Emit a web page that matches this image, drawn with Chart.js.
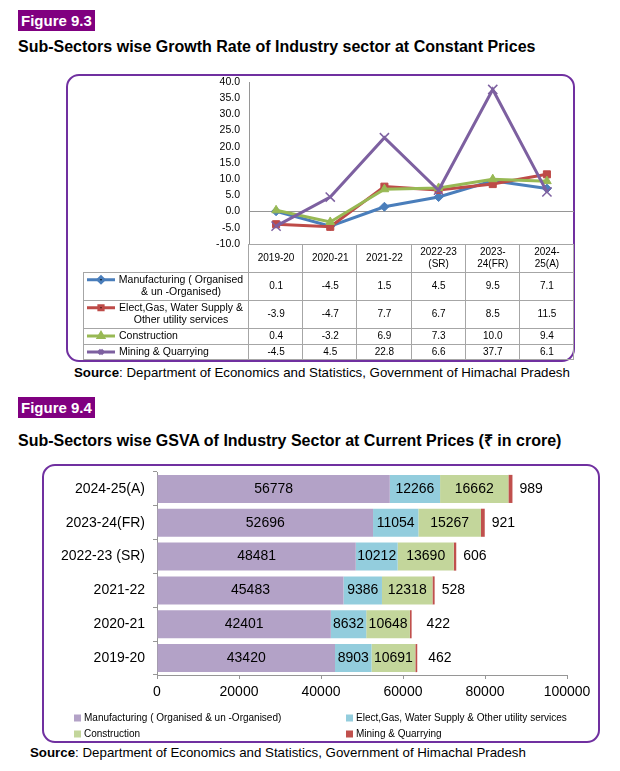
<!DOCTYPE html>
<html>
<head>
<meta charset="utf-8">
<script src="https://cdn.jsdelivr.net/npm/chart.js@4.4.1/dist/chart.umd.min.js"></script>
<style>
  body { margin: 0; width: 620px; height: 771px; background: #fff; position: relative; overflow: hidden;
         font-family: Arial, "Liberation Sans", sans-serif; color: #000; }
  .fig { position: absolute; left: 18px; height: 21px; line-height: 21px; padding: 0 3px;
         background: #800080; color: #fff; font-weight: bold; font-size: 15px; }
  .title { position: absolute; left: 18px; font-weight: bold; font-size: 16px; white-space: nowrap; }
  .box { position: absolute; border: 2px solid #7030A0; border-radius: 13px; box-sizing: border-box; }
  .src { position: absolute; font-size: 13.3px; white-space: nowrap; }
  canvas { position: absolute; }
</style>
</head>
<body>
<div class="fig" style="top:10px">Figure 9.3</div>
<div class="title" style="top:38px">Sub-Sectors wise Growth Rate of Industry sector at Constant Prices</div>
<div class="box" style="left:66px; top:74px; width:509px; height:288px"></div>
<canvas id="growthChart" width="507" height="286" style="left:67px; top:75px; width:507px; height:286px"></canvas>
<div class="src" style="left:74px; top:365px"><b>Source</b>: Department of Economics and Statistics, Government of Himachal Pradesh</div>

<div class="fig" style="top:397px">Figure 9.4</div>
<div class="title" style="top:429px">Sub-Sectors wise GSVA of Industry Sector at Current Prices (₹ in crore)</div>
<div class="box" style="left:42px; top:464px; width:558px; height:279px"></div>
<canvas id="gsvaChart" width="556" height="277" style="left:43px; top:465px; width:556px; height:277px"></canvas>
<div class="src" style="left:30px; top:745px"><b>Source</b>: Department of Economics and Statistics, Government of Himachal Pradesh</div>

<script>
// Figure 9.3 - growth rate (%)
const growthYears = ['2019-20', '2020-21', '2021-22', ['2022-23', '(SR)'], ['2023-', '24(FR)'], ['2024-', '25(A)']];
const manufGrowth = [0.1, -4.5, 1.5, 4.5, 9.5, 7.1];
const electGrowth = [-3.9, -4.7, 7.7, 6.7, 8.5, 11.5];
const constrGrowth = [0.4, -3.2, 6.9, 7.3, 10.0, 9.4];
const miningGrowth = [-4.5, 4.5, 22.8, 6.6, 37.7, 6.1];
const growthLabels = [
  ['Manufacturing ( Organised', '& un -Organised)'],
  ['Elect,Gas, Water Supply &', 'Other utility services'],
  ['Construction'],
  ['Mining & Quarrying']
];
const growthTicks = { min: -10, max: 40, step: 5 };

// Figure 9.4 - GSVA (Rs crore), top row first
const gsvaYears = ['2024-25(A)', '2023-24(FR)', '2022-23 (SR)', '2021-22', '2020-21', '2019-20'];
const manufGsva = [56778, 52696, 48481, 45483, 42401, 43420];
const electGsva = [12266, 11054, 10212, 9386, 8632, 8903];
const constrGsva = [16662, 15267, 13690, 12318, 10648, 10691];
const miningGsva = [989, 921, 606, 528, 422, 462];
const gsvaLabels = ['Manufacturing ( Organised & un -Organised)', 'Elect,Gas, Water Supply & Other utility services',
                    'Construction', 'Mining & Quarrying'];
const gsvaTicks = { min: 0, max: 100000, step: 20000 };
// mezera popisku tezby za koncem sloupce (px)
const miningLabelGap = [7, 7, 7, 7, 15, 11];

const FONT = 'Arial, "Liberation Sans", sans-serif';
Chart.defaults.font.family = FONT;
Chart.defaults.color = '#000';

// osa nema pridavat vlastni okraj nahore/dole
function fixWidth(w) {
  return s => { s.width = w; s.paddingTop = 0; s.paddingBottom = 0; };
}

// tabulka pod grafem
const growthTable = {
  id: 'growthTable',
  afterDraw(chart) {
    const ctx = chart.ctx;
    const area = chart.chartArea;
    const n = growthYears.length;
    const colW = (area.right - area.left) / n;
    const legLeft = 16;
    const headTop = area.bottom, headH = 28;
    const rowH = growthLabels.map(l => l.length > 1 ? 28 : 16);
    const tableBottom = headTop + headH + rowH.reduce((a, b) => a + b, 0);

    ctx.save();
    ctx.strokeStyle = '#a6a6a6';
    ctx.lineWidth = 1;
    ctx.beginPath();
    // vodorovne
    ctx.moveTo(area.left, headTop + 0.5); ctx.lineTo(area.right, headTop + 0.5);
    let y = headTop + headH;
    const rowTops = [];
    rowH.forEach(h => {
      rowTops.push(y);
      ctx.moveTo(legLeft, y + 0.5); ctx.lineTo(area.right, y + 0.5);
      y += h;
    });
    ctx.moveTo(legLeft, tableBottom - 0.5); ctx.lineTo(area.right, tableBottom - 0.5);
    // svisle
    ctx.moveTo(legLeft + 0.5, headTop + headH); ctx.lineTo(legLeft + 0.5, tableBottom);
    for (let i = 0; i <= n; i++) {
      const x = Math.round(area.left + i * colW) - 0.5;
      ctx.moveTo(x, headTop); ctx.lineTo(x, tableBottom);
    }
    ctx.stroke();

    ctx.fillStyle = '#000';
    ctx.textBaseline = 'middle';
    ctx.textAlign = 'center';
    ctx.font = '10px ' + FONT;
    growthYears.forEach((lab, i) => {
      const cx = chart.scales.x.getPixelForValue(i);
      const lines = Array.isArray(lab) ? lab : [lab];
      const mid = headTop + headH / 2;
      lines.forEach((t, k) => ctx.fillText(t, cx, mid + (k - (lines.length - 1) / 2) * 11.5));
    });

    chart.data.datasets.forEach((ds, d) => {
      const top = rowTops[d], h = rowH[d];
      ctx.font = '10px ' + FONT;
      ctx.textAlign = 'center';
      ds.data.forEach((v, i) => {
        ctx.fillText(v.toFixed(1), chart.scales.x.getPixelForValue(i), top + h / 2);
      });
      // klic legendy
      const lines = growthLabels[d];
      const firstY = top + h / 2 - (lines.length - 1) * 6.25;
      ctx.strokeStyle = ds.borderColor;
      ctx.lineWidth = 3;
      ctx.beginPath(); ctx.moveTo(20, firstY); ctx.lineTo(48, firstY); ctx.stroke();
      Chart.helpers.drawPoint(ctx, {
        pointStyle: ds.pointStyle, radius: 3, borderWidth: 1, rotation: 0
      }, 34, firstY);
      ctx.font = '10.5px ' + FONT;
      if (lines.length > 1) {
        ctx.textAlign = 'center';
        lines.forEach((t, k) => ctx.fillText(t, 114, firstY + k * 12.5));
      } else {
        ctx.textAlign = 'left';
        ctx.fillText(lines[0], 52, firstY);
      }
    });
    ctx.restore();
  }
};

function lineSet(label, data, color, style, radius, order) {
  return {
    label, data, order,
    borderColor: color, backgroundColor: color,
    borderWidth: 3, pointStyle: style, pointRadius: radius,
    pointBackgroundColor: color, pointBorderColor: color,
    pointBorderWidth: style === 'crossRot' ? 1.5 : 1,
    tension: 0
  };
}

new Chart(document.getElementById('growthChart'), {
  type: 'line',
  data: {
    labels: growthYears,
    datasets: [
      lineSet(growthLabels[0].join(' '), manufGrowth, '#4A7EBB', 'rectRot', 4.5, 4),
      lineSet(growthLabels[1].join(' '), electGrowth, '#BE4B48', 'rect', 5, 3),
      lineSet(growthLabels[2].join(' '), constrGrowth, '#98B954', 'triangle', 5, 2),
      lineSet(growthLabels[3].join(' '), miningGrowth, '#7D60A0', 'crossRot', 6.5, 1)
    ]
  },
  options: {
    responsive: false,
    animation: false,
    layout: { autoPadding: false, padding: { left: 0, top: 7, right: 0, bottom: 117 } },
    plugins: { legend: { display: false }, tooltip: { enabled: false } },
    scales: {
      x: { display: false, offset: true },
      y: {
        min: growthTicks.min, max: growthTicks.max,
        afterFit: fixWidth(182),
        ticks: { stepSize: growthTicks.step, padding: 9, font: { size: 10.5 }, callback: v => v.toFixed(1) },
        grid: { drawTicks: false, color: c => c.tick && c.tick.value === 0 ? '#969696' : 'transparent' },
        border: { display: true, color: '#969696' }
      }
    }
  },
  plugins: [growthTable]
});

// popisky hodnot a legenda
const gsvaExtras = {
  id: 'gsvaExtras',
  afterDatasetsDraw(chart) {
    const ctx = chart.ctx;
    ctx.save();
    ctx.font = '14px ' + FONT;
    ctx.fillStyle = '#000';
    ctx.textBaseline = 'middle';
    chart.data.datasets.forEach((ds, d) => {
      chart.getDatasetMeta(d).data.forEach((bar, i) => {
        if (d === chart.data.datasets.length - 1) {
          ctx.textAlign = 'left';
          ctx.fillText(ds.data[i], bar.x + miningLabelGap[i], bar.y);
        } else {
          ctx.textAlign = 'center';
          ctx.fillText(ds.data[i], (bar.x + bar.base) / 2, bar.y);
        }
      });
    });
    // legenda 2x2
    ctx.font = '10px ' + FONT;
    ctx.textAlign = 'left';
    const cols = [31, 303], rows = [253, 269];
    chart.data.datasets.forEach((ds, d) => {
      const x = cols[d % 2], y = rows[Math.floor(d / 2)];
      ctx.fillStyle = ds.backgroundColor;
      ctx.fillRect(x, y - 3.5, 7, 7);
      ctx.fillStyle = '#000';
      ctx.fillText(gsvaLabels[d], x + 10, y);
    });
    ctx.restore();
  }
};

function barSet(label, data, color) {
  return { label, data, backgroundColor: color, borderWidth: 0, barPercentage: 0.83, categoryPercentage: 1 };
}

new Chart(document.getElementById('gsvaChart'), {
  type: 'bar',
  data: {
    labels: gsvaYears,
    datasets: [
      barSet(gsvaLabels[0], manufGsva, '#B3A2C7'),
      barSet(gsvaLabels[1], electGsva, '#93CDDD'),
      barSet(gsvaLabels[2], constrGsva, '#C3D69B'),
      barSet(gsvaLabels[3], miningGsva, '#C0504D')
    ]
  },
  options: {
    indexAxis: 'y',
    responsive: false,
    animation: false,
    layout: { autoPadding: false, padding: { left: 0, top: 7, right: 32, bottom: 42 } },
    plugins: { legend: { display: false }, tooltip: { enabled: false } },
    scales: {
      x: {
        stacked: true, min: gsvaTicks.min, max: gsvaTicks.max,
        afterFit: s => { s.height = 25; },
        ticks: { stepSize: gsvaTicks.step, padding: 5, font: { size: 14 }, maxRotation: 0, callback: v => String(v) },
        grid: { drawOnChartArea: false, drawTicks: true, tickLength: 4, color: '#969696' },
        border: { display: true, color: '#969696' }
      },
      y: {
        stacked: true,
        afterFit: fixWidth(114),
        ticks: { padding: 8, font: { size: 14 } },
        grid: { offset: true, drawOnChartArea: false, drawTicks: true, tickLength: 4, color: '#969696' },
        border: { display: true, color: '#969696' }
      }
    }
  },
  plugins: [gsvaExtras]
});
</script>
</body>
</html>
